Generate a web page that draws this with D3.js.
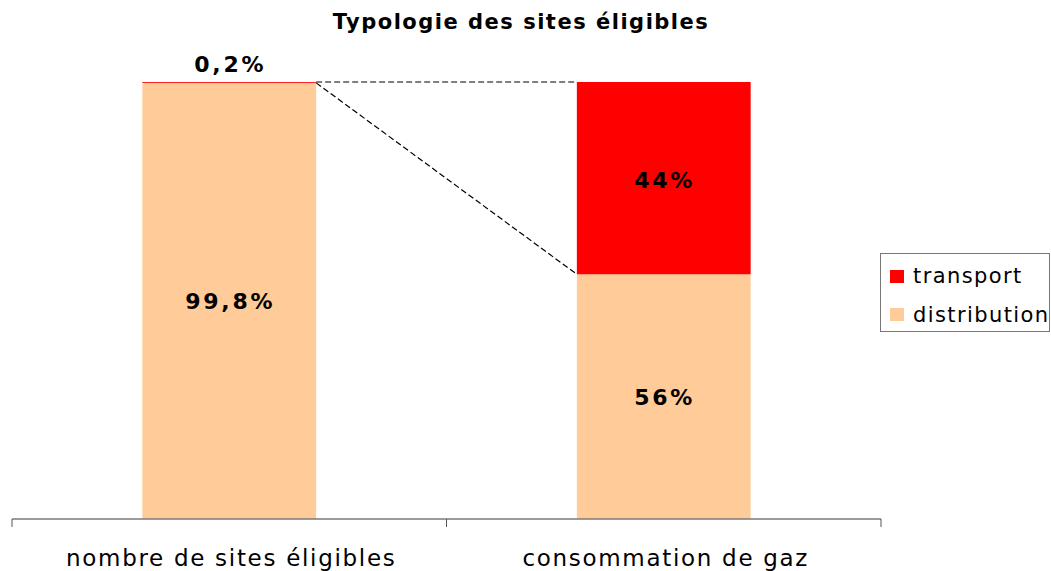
<!DOCTYPE html>
<html>
<head>
<meta charset="utf-8">
<script src="https://cdn.jsdelivr.net/npm/d3@7"></script>
<style>
  body { margin: 0; background: #fff; }
  text { font-family: "DejaVu Sans", Verdana, sans-serif; }
</style>
</head>
<body>
<div id="chart"></div>
<script>
// données
var categories = ["nombre de sites éligibles", "consommation de gaz"];
var seriesNames = ["distribution", "transport"];
var distribution = [99.8, 56];
var transport = [0.2, 44];
var labelsDistribution = ["99,8%", "56%"];
var labelsTransport = ["0,2%", "44%"];
var legendItems = ["transport", "distribution"];

var width = 1051, height = 571;
var colors = {distribution: "#ffcc99", transport: "#ff0000"};

var plot = {left: 12, right: 881, top: 82, bottom: 519};

var svg = d3.select("#chart")
	.append("svg")
	.attr("width", width)
	.attr("height", height);

var x = d3.scaleBand()
	.domain(categories)
	.range([plot.left, plot.right])
	.paddingInner(0.6)
	.paddingOuter(0.3);

var y = d3.scaleLinear()
	.domain([0, 100])
	.range([plot.bottom, plot.top]);

// empilement
var rows = categories.map(function(c, i){
	return {cat: c, distribution: distribution[i], transport: transport[i],
		labD: labelsDistribution[i], labT: labelsTransport[i]};
});
var stack = d3.stack().keys(seriesNames)(rows);

svg.append("text")
	.attr("x", 521)
	.attr("y", 29)
	.attr("text-anchor", "middle")
	.style("font-size", "21px")
	.style("font-weight", "bold")
	.style("letter-spacing", "1.5px")
	.text("Typologie des sites éligibles");

// lignes pointillées entre les barres
var b0 = rows[0], b1 = rows[1];
var xEnd0 = x(b0.cat) + x.bandwidth(), xStart1 = x(b1.cat);
svg.append("line")
	.attr("x1", xEnd0).attr("y1", y(100))
	.attr("x2", xStart1).attr("y2", y(100))
	.attr("stroke", "#000").attr("stroke-width", 1.2)
	.attr("stroke-dasharray", "6,3");
svg.append("line")
	.attr("x1", xEnd0).attr("y1", y(b0.distribution))
	.attr("x2", xStart1).attr("y2", y(b1.distribution))
	.attr("stroke", "#000").attr("stroke-width", 1.2)
	.attr("stroke-dasharray", "6,3");

svg.selectAll("g.serie")
	.data(stack)
	.enter().append("g")
	.attr("class", "serie")
	.attr("fill", function(d){ return colors[d.key]; })
	.selectAll("rect")
	.data(function(d){ return d; })
	.enter().append("rect")
	.attr("x", function(d){ return x(d.data.cat); })
	.attr("y", function(d){ return y(d[1]); })
	.attr("width", x.bandwidth())
	.attr("height", function(d){ return y(d[0]) - y(d[1]); });

// étiquettes
function barLabel(cx, cy, txt){
	svg.append("text")
		.attr("x", cx + 1)
		.attr("y", cy)
		.attr("text-anchor", "middle")
		.style("font-size", "22px")
		.style("font-weight", "bold")
		.style("letter-spacing", "2.7px")
		.text(txt);
}
rows.forEach(function(r){
	var cx = x(r.cat) + x.bandwidth() / 2;
	barLabel(cx, (y(0) + y(r.distribution)) / 2 + 8, r.labD);
	var ty = r.transport < 5 ? y(100) - 10 : (y(r.distribution) + y(100)) / 2 + 10;
	barLabel(cx, ty, r.labT);
});

// axe
var axis = svg.append("g")
	.attr("transform", "translate(0," + plot.bottom + ")");
axis.append("line")
	.attr("x1", plot.left).attr("x2", plot.right)
	.attr("stroke", "#7a7a7a").attr("stroke-width", 1.5);
var tickPos = [plot.left].concat(categories.map(function(c){ return x(c) + x.bandwidth() / 2 + x.step() / 2; }));
axis.selectAll("line.tick")
	.data(tickPos)
	.enter().append("line")
	.attr("class", "tick")
	.attr("x1", function(d){ return d; }).attr("x2", function(d){ return d; })
	.attr("y1", 0).attr("y2", 8)
	.attr("stroke", "#555").attr("stroke-width", 1);
axis.selectAll("text")
	.data(categories)
	.enter().append("text")
	.attr("x", function(d){ return x(d) + x.bandwidth() / 2 + 2; })
	.attr("y", 47)
	.attr("text-anchor", "middle")
	.style("font-size", "23px")
	.style("letter-spacing", "1.7px")
	.text(function(d){ return d; });

// légende
var legend = svg.append("g").attr("transform", "translate(880.5,253.5)");
legend.append("rect")
	.attr("width", 169).attr("height", 78)
	.attr("fill", "#fff").attr("stroke", "#777").attr("stroke-width", 1);
legendItems.forEach(function(k, i){
	legend.append("rect")
		.attr("x", 9.5).attr("y", 16.5 + i * 38)
		.attr("width", 14).attr("height", 13)
		.attr("fill", colors[k]);
	legend.append("text")
		.attr("x", 32.5).attr("y", 29.5 + i * 39)
		.style("font-size", "21px")
		.style("letter-spacing", "1.4px")
		.text(k);
});
</script>
</body>
</html>
